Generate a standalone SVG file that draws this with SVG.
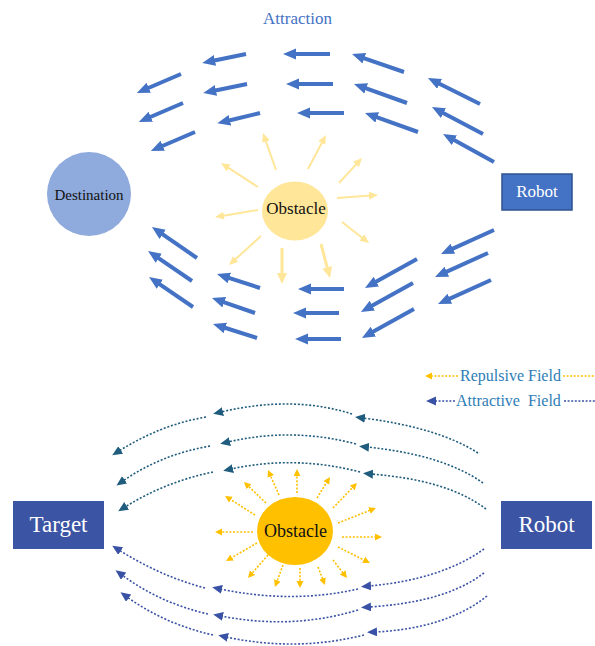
<svg xmlns="http://www.w3.org/2000/svg" width="595" height="646" viewBox="0 0 595 646">
  <style>
    .serif { font-family: "Liberation Serif", "Times New Roman", serif; }
    .flow { stroke: #4472C4; stroke-width: 4; fill: none; marker-end: url(#headBlue); }
    .push { stroke: #FFE699; stroke-width: 2; fill: none; marker-end: url(#headPale); }
    .pushWide { stroke: #FFE699; stroke-width: 3; fill: none; marker-end: url(#headPaleWide); }
    .ray { stroke: #FFC000; stroke-width: 1.6; stroke-dasharray: 2 1.6; fill: none; marker-end: url(#headGold); }
    .fieldTeal { stroke: #1F5C7E; stroke-width: 1.6; stroke-dasharray: 2 1.8; fill: none; marker-end: url(#headTeal); }
    .fieldNavy { stroke: #3A52A5; stroke-width: 1.6; stroke-dasharray: 2 1.8; fill: none; marker-end: url(#headNavy); }
    .legendTxt { font-size: 16px; fill: #2E7DB6; white-space: pre; }
  </style>
  <defs>
    <marker id="headBlue" markerUnits="userSpaceOnUse" markerWidth="14" markerHeight="12" refX="3" refY="5.5" orient="auto">
      <path d="M0,0 L13,5.5 L0,11 z" fill="#4472C4"/>
    </marker>
    <marker id="headPale" markerUnits="userSpaceOnUse" markerWidth="10" markerHeight="9" refX="2" refY="4" orient="auto">
      <path d="M0,0 L9,4 L0,8 z" fill="#FFE699"/>
    </marker>
    <marker id="headPaleWide" markerUnits="userSpaceOnUse" markerWidth="12" markerHeight="11" refX="2" refY="5" orient="auto">
      <path d="M0,0 L11,5 L0,10 z" fill="#FFE699"/>
    </marker>
    <marker id="headGold" markerUnits="userSpaceOnUse" markerWidth="8" markerHeight="8" refX="1" refY="3.5" orient="auto">
      <path d="M0,0 L7,3.5 L0,7 z" fill="#FFC000"/>
    </marker>
    <marker id="headTeal" markerUnits="userSpaceOnUse" markerWidth="11" markerHeight="10" refX="2" refY="4.5" orient="auto">
      <path d="M0,0 L10,4.5 L0,9 z" fill="#1F5C7E"/>
    </marker>
    <marker id="headNavy" markerUnits="userSpaceOnUse" markerWidth="11" markerHeight="10" refX="2" refY="4.5" orient="auto">
      <path d="M0,0 L10,4.5 L0,9 z" fill="#3A52A5"/>
    </marker>
  </defs>

  <rect width="595" height="646" fill="#ffffff"/>

  <!-- upper panel: title -->
  <text class="serif" x="297.5" y="24" font-size="17" fill="#4472C4" text-anchor="middle">Attraction</text>

  <!-- upper panel: nodes -->
  <g id="destination">
    <circle cx="89" cy="194" r="42" fill="#8FAADC"/>
    <text class="serif" x="89" y="200" font-size="15" fill="#111" text-anchor="middle">Destination</text>
  </g>
  <g id="obstacle-top">
    <ellipse cx="295" cy="211" rx="33" ry="29.5" fill="#FFE699"/>
    <text class="serif" x="296" y="214" font-size="17" fill="#111" text-anchor="middle">Obstacle</text>
  </g>
  <g id="robot-top">
    <rect x="502" y="174" width="70" height="36" fill="#4472C4" stroke="#2F528F" stroke-width="1.5"/>
    <text class="serif" x="537" y="197" font-size="17" fill="#ffffff" text-anchor="middle">Robot</text>
  </g>

  <!-- upper panel: attraction arrows -->
  <g id="attraction-arrows">
    <line class="flow" x1="246" y1="54" x2="212" y2="61"/>
    <line class="flow" x1="181" y1="74" x2="146" y2="89"/>
    <line class="flow" x1="247" y1="84" x2="213" y2="91"/>
    <line class="flow" x1="183" y1="103" x2="148" y2="118"/>
    <line class="flow" x1="260" y1="113" x2="227" y2="121"/>
    <line class="flow" x1="195" y1="132" x2="160" y2="147"/>
    <line class="flow" x1="330" y1="54" x2="293" y2="54"/>
    <line class="flow" x1="333" y1="84" x2="296" y2="84"/>
    <line class="flow" x1="344" y1="113" x2="307" y2="113"/>
    <line class="flow" x1="404" y1="72" x2="361.5" y2="57.3"/>
    <line class="flow" x1="407" y1="103" x2="363.4" y2="87.4"/>
    <line class="flow" x1="418" y1="132" x2="374.4" y2="116.4"/>
    <line class="flow" x1="480" y1="104" x2="436.9" y2="82.5"/>
    <line class="flow" x1="483" y1="134" x2="440.8" y2="111.7"/>
    <line class="flow" x1="494" y1="162" x2="451.8" y2="138.8"/>
    <line class="flow" x1="197" y1="258" x2="160.2" y2="232.7"/>
    <line class="flow" x1="192" y1="281" x2="156.3" y2="256.6"/>
    <line class="flow" x1="193" y1="307" x2="157.3" y2="282.6"/>
    <line class="flow" x1="260" y1="288" x2="226.5" y2="277.1"/>
    <line class="flow" x1="255" y1="313" x2="221.4" y2="301.3"/>
    <line class="flow" x1="257" y1="338" x2="222.5" y2="327"/>
    <line class="flow" x1="344" y1="289" x2="308" y2="289"/>
    <line class="flow" x1="339" y1="313" x2="303" y2="313"/>
    <line class="flow" x1="341" y1="339" x2="305" y2="339"/>
    <line class="flow" x1="417" y1="259" x2="373.7" y2="283.1"/>
    <line class="flow" x1="413" y1="283" x2="369.7" y2="307.1"/>
    <line class="flow" x1="414" y1="309" x2="370.7" y2="333.1"/>
    <line class="flow" x1="494" y1="230" x2="450.1" y2="249.9"/>
    <line class="flow" x1="488" y1="253" x2="444.1" y2="272.9"/>
    <line class="flow" x1="491" y1="280" x2="447.1" y2="299.9"/>
  </g>

  <!-- upper panel: repulsion arrows round the obstacle -->
  <g id="repulsion-arrows-top">
    <line class="push" x1="276" y1="170" x2="265.3" y2="139.6"/>
    <line class="push" x1="308" y1="169" x2="322.7" y2="141.2"/>
    <line class="push" x1="258" y1="187" x2="226.9" y2="166.8"/>
    <line class="push" x1="339" y1="183" x2="357.3" y2="163.1"/>
    <line class="push" x1="337" y1="198" x2="371" y2="195.5"/>
    <line class="push" x1="258" y1="210" x2="221.9" y2="215.9"/>
    <line class="push" x1="342" y1="222" x2="363.5" y2="238.7"/>
    <line class="push" x1="261" y1="236" x2="234.2" y2="260.3"/>
    <line class="pushWide" x1="282" y1="248" x2="282" y2="275"/>
    <line class="pushWide" x1="321" y1="244" x2="327.7" y2="269.3"/>
  </g>

  <!-- lower panel: nodes -->
  <g id="target">
    <rect x="13" y="501" width="91" height="48" fill="#3B54A4"/>
    <text class="serif" x="58.5" y="532" font-size="23" fill="#ffffff" text-anchor="middle">Target</text>
  </g>
  <g id="robot-bottom">
    <rect x="501" y="501" width="91" height="48" fill="#3B54A4"/>
    <text class="serif" x="546.5" y="532" font-size="23" fill="#ffffff" text-anchor="middle">Robot</text>
  </g>
  <g id="obstacle-bottom">
    <ellipse cx="295" cy="531" rx="38" ry="34" fill="#FFC000"/>
    <text class="serif" x="295.5" y="537" font-size="18" fill="#111" text-anchor="middle">Obstacle</text>
  </g>

  <!-- lower panel: connectors -->
  <g id="connectors">
    <!-- repulsive rays -->
    <g id="repulsive-rays">
      <line class="ray" x1="297" y1="493" x2="297" y2="475"/>
      <line class="ray" x1="279" y1="495" x2="270.4" y2="475.5"/>
      <line class="ray" x1="266" y1="503" x2="248.3" y2="486.1"/>
      <line class="ray" x1="255" y1="515" x2="230.1" y2="499.2"/>
      <line class="ray" x1="253" y1="532" x2="221" y2="532"/>
      <line class="ray" x1="257" y1="543" x2="231.2" y2="558"/>
      <line class="ray" x1="268" y1="555" x2="251.9" y2="573.5"/>
      <line class="ray" x1="283" y1="565" x2="277" y2="581.4"/>
      <line class="ray" x1="300" y1="568" x2="300" y2="582"/>
      <line class="ray" x1="318" y1="567" x2="322.8" y2="579.4"/>
      <line class="ray" x1="333" y1="560" x2="343.3" y2="573.3"/>
      <line class="ray" x1="338" y1="547" x2="364.6" y2="560.3"/>
      <line class="ray" x1="342" y1="537" x2="376" y2="537"/>
      <line class="ray" x1="338" y1="523" x2="370.4" y2="510.2"/>
      <line class="ray" x1="333" y1="508" x2="352.8" y2="487.3"/>
      <line class="ray" x1="317" y1="498" x2="326.8" y2="482.1"/>
    </g>
    <!-- attractive field lines over the obstacle -->
    <g id="field-upper">
      <path class="fieldTeal" d="M478,453 C450,435 410,424 363,418"/>
      <path class="fieldTeal" d="M352,414 Q293,395 221,412"/>
      <path class="fieldTeal" d="M206,417 Q160,425 119,451"/>
      <path class="fieldTeal" d="M483,483 C455,463 415,452 367,447"/>
      <path class="fieldTeal" d="M356,444 Q292,427 228,442"/>
      <path class="fieldTeal" d="M210,446 Q160,455 123,481"/>
      <path class="fieldTeal" d="M486,509 C458,488 420,478 371,474"/>
      <path class="fieldTeal" d="M360,472 Q295,455 231,469"/>
      <path class="fieldTeal" d="M213,472 Q165,482 125,507"/>
    </g>
    <!-- attractive field lines under the obstacle -->
    <g id="field-lower">
      <path class="fieldNavy" d="M484,549 C455,570 415,582 369,586"/>
      <path class="fieldNavy" d="M358,589 Q292,604 220,589"/>
      <path class="fieldNavy" d="M205,588 Q160,576 119,550"/>
      <path class="fieldNavy" d="M484,573 C455,595 415,604 369,607"/>
      <path class="fieldNavy" d="M358,610 Q292,630 221,616"/>
      <path class="fieldNavy" d="M208,614 Q160,603 122,575"/>
      <path class="fieldNavy" d="M487,596 C460,618 420,630 375,632"/>
      <path class="fieldNavy" d="M364,635 Q296,652 226,637"/>
      <path class="fieldNavy" d="M213,635 Q165,624 127,597"/>
    </g>
  </g>

  <!-- legend -->
  <g id="legend">
    <line x1="458" y1="376" x2="431" y2="376" stroke="#FFC000" stroke-width="1.4" stroke-dasharray="2 1.6" marker-end="url(#headGold)"/>
    <text class="serif legendTxt" x="460" y="381">Repulsive Field</text>
    <line x1="563" y1="376" x2="595" y2="376" stroke="#FFC000" stroke-width="1.4" stroke-dasharray="2 1.6"/>
    <line x1="455" y1="401" x2="434" y2="401" stroke="#3A52A5" stroke-width="1.4" stroke-dasharray="2 1.6" marker-end="url(#headNavy)"/>
    <text class="serif legendTxt" x="456" y="406">Attractive  Field</text>
    <line x1="564" y1="401" x2="595" y2="401" stroke="#3A52A5" stroke-width="1.4" stroke-dasharray="2 1.6"/>
  </g>
</svg>
